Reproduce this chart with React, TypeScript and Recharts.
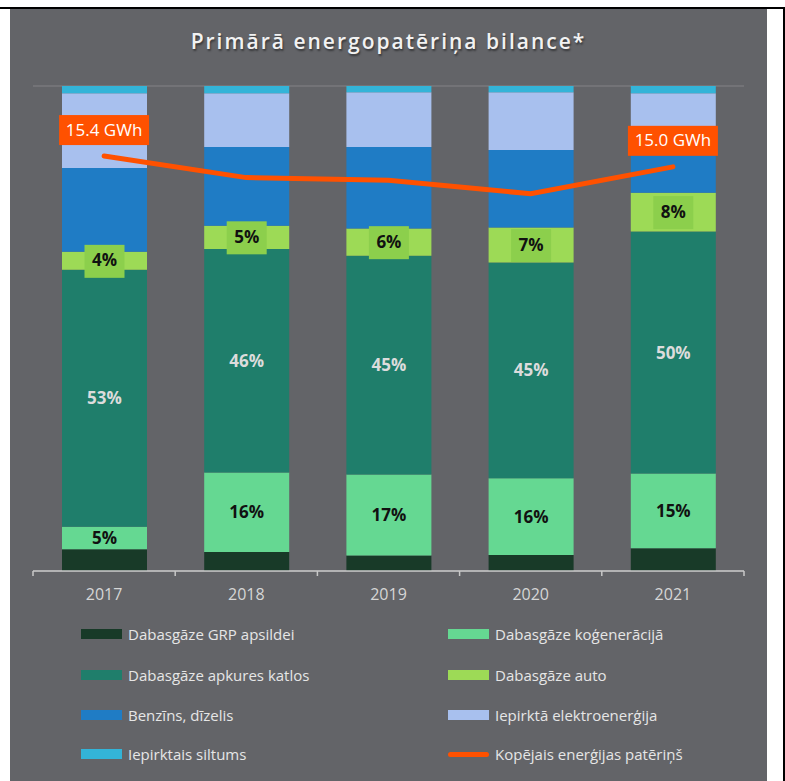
import React from "react";
import {
  ComposedChart,
  Bar,
  Line,
  XAxis,
  YAxis,
  CartesianGrid,
  LabelList,
} from "recharts";

// shares of primary energy consumption, %
const years = ["2017", "2018", "2019", "2020", "2021"];
const grpHeating = [4.5, 3.9, 3.2, 3.3, 4.7];
const gasCogeneration = [4.6, 16.4, 16.7, 15.8, 15.4];
const gasBoilers = [53.0, 46.1, 45.1, 44.5, 49.9];
const gasAuto = [3.7, 4.8, 5.6, 7.2, 8.0];
const petrolDiesel = [17.3, 16.2, 16.8, 16.0, 12.0];
const boughtElectricity = [15.4, 11.1, 11.3, 11.9, 8.5];
const boughtHeat = [1.5, 1.5, 1.3, 1.3, 1.5];
// total consumption, GWh
const totalGWh = [15.4, 14.6, 14.5, 14.0, 15.0];
const pctTicks = [0, 10, 20, 30, 40, 50, 60, 70, 80, 90, 100];

const data = years.map((year, i) => ({
  year,
  grp: grpHeating[i],
  kogen: gasCogeneration[i],
  katli: gasBoilers[i],
  auto: gasAuto[i],
  benz: petrolDiesel[i],
  elek: boughtElectricity[i],
  silt: boughtHeat[i],
  total: totalGWh[i],
}));

const BG = "#636468";
const FONT = "'Open Sans', sans-serif";

const series = [
  { key: "grp", name: "Dabasgāze GRP apsildei", color: "#183a28" },
  { key: "kogen", name: "Dabasgāze koģenerācijā", color: "#65d892" },
  { key: "katli", name: "Dabasgāze apkures katlos", color: "#1f7e6b" },
  { key: "auto", name: "Dabasgāze auto", color: "#9dda56" },
  { key: "benz", name: "Benzīns, dīzelis", color: "#1f7cc5" },
  { key: "elek", name: "Iepirktā elektroenerģija", color: "#a8c0ee" },
  { key: "silt", name: "Iepirktais siltums", color: "#33b4d8" },
];
const lineColor = "#ff5100";
const lineName = "Kopējais enerģijas patēriņš";

const pct = (v: any) => `${Math.round(Number(v))}%`;

function AutoLabel(props: any) {
  const { x, y, width, height, value } = props;
  const cx = x + width / 2;
  const cy = y + height / 2;
  return (
    <g>
      <rect x={cx - 20} y={cy - 16} width={40} height={33} fill="#8ccf4c" />
      <text
        x={cx}
        y={cy + 1}
        textAnchor="middle"
        dominantBaseline="middle"
        fontFamily={FONT}
        fontWeight={700}
        fontSize={17}
        fill="#111"
      >
        {pct(value)}
      </text>
    </g>
  );
}

function TotalLabel(props: any) {
  const { x, y, value, index } = props;
  if (index !== 0 && index !== years.length - 1) return null;
  const cy = y - 26;
  return (
    <g>
      <rect x={x - 45} y={cy - 15} width={90} height={30} fill={lineColor} />
      <text
        x={x}
        y={cy + 1}
        textAnchor="middle"
        dominantBaseline="middle"
        fontFamily={FONT}
        fontSize={17}
        fill="#fff"
      >
        {`${Number(value).toFixed(1)} GWh`}
      </text>
    </g>
  );
}

// year label plus the small tick marks that sit between the bars
function YearTick(props: any) {
  const { x, y, payload, index } = props;
  const off = payload?.offset ?? 0;
  const axisY = y - 18;
  return (
    <g>
      <line x1={x - off} x2={x - off} y1={axisY} y2={axisY + 5} stroke="#c8c8c8" strokeWidth={1.5} />
      {index === years.length - 1 && (
        <line x1={x + off} x2={x + off} y1={axisY} y2={axisY + 5} stroke="#c8c8c8" strokeWidth={1.5} />
      )}
      <text
        x={x}
        y={y}
        dy="0.71em"
        textAnchor="middle"
        fontFamily={FONT}
        fontSize={16}
        fill="#d6d6d6"
      >
        {payload.value}
      </text>
    </g>
  );
}

function LegendBlock() {
  const items = [
    ...series.map((s) => ({ name: s.name, color: s.color, line: false })),
    { name: lineName, color: lineColor, line: true },
  ];
  const rowsY = [625, 666, 706, 745];
  return (
    <>
      {items.map((it, i) => {
        const col = i % 2;
        const row = Math.floor(i / 2);
        const left = col === 0 ? 71 : 438;
        return (
          <div
            key={it.name}
            style={{
              position: "absolute",
              left,
              top: rowsY[row] - 11,
              height: 22,
              display: "flex",
              alignItems: "center",
              fontFamily: FONT,
              fontSize: 15,
              color: "#e6e6e6",
              whiteSpace: "nowrap",
            }}
          >
            <span
              style={{
                display: "inline-block",
                width: 41,
                height: it.line ? 5 : 10,
                borderRadius: it.line ? 3 : 0,
                background: it.color,
                marginRight: 6,
              }}
            />
            {it.name}
          </div>
        );
      })}
    </>
  );
}

export default function App() {
  return (
    <div style={{ position: "absolute", left: 0, top: 0, width: 785, height: 781, background: "#fff" }}>
      <div style={{ position: "absolute", left: 0, top: 7, width: 785, height: 2, background: "#000" }} />
      <div style={{ position: "absolute", left: 783, top: 7, width: 2, height: 774, background: "#000" }} />
      <div
        style={{
          position: "absolute",
          left: 10,
          top: 9,
          width: 757,
          height: 772,
          background: BG,
          overflow: "hidden",
        }}
      >
        <div
          style={{
            position: "absolute",
            top: 17,
            left: 0,
            width: 757,
            textAlign: "center",
            fontFamily: FONT,
            fontWeight: 600,
            fontSize: 21,
            lineHeight: "30px",
            letterSpacing: 2,
            color: "#f2f2f2",
            textShadow: "1px 2px 2px rgba(0,0,0,0.45)",
          }}
        >
          Primārā energopatēriņa bilance*
        </div>

        <ComposedChart
          width={757}
          height={620}
          data={data}
          margin={{ top: 77, right: 23, left: 23, bottom: 0 }}
          barSize={85}
        >
          <CartesianGrid vertical={false} stroke="#78797d" strokeWidth={1.5} />
          <XAxis
            dataKey="year"
            height={58}
            axisLine={{ stroke: "#c8c8c8", strokeWidth: 1.5 }}
            tickLine={false}
            tickSize={0}
            tickMargin={18}
            tick={<YearTick />}
            interval={0}
          />
          <YAxis yAxisId="pct" hide domain={[0, 100]} ticks={pctTicks} />
          <YAxis yAxisId="gwh" hide orientation="right" domain={[0, 18]} />

          {series.map((s) => (
            <Bar
              key={s.key}
              yAxisId="pct"
              dataKey={s.key}
              name={s.name}
              stackId="a"
              fill={s.color}
              isAnimationActive={false}
            >
              {s.key === "kogen" && (
                <LabelList
                  dataKey="kogen"
                  position="center"
                  formatter={pct}
                  style={{ fontFamily: FONT, fontWeight: 700, fontSize: 17, fill: "#111" }}
                />
              )}
              {s.key === "katli" && (
                <LabelList
                  dataKey="katli"
                  position="center"
                  formatter={pct}
                  style={{ fontFamily: FONT, fontWeight: 700, fontSize: 17, fill: "#dcdcdc" }}
                />
              )}
              {s.key === "auto" && <LabelList dataKey="auto" content={<AutoLabel />} />}
            </Bar>
          ))}

          <Line
            yAxisId="gwh"
            dataKey="total"
            name={lineName}
            stroke={lineColor}
            strokeWidth={5}
            strokeLinecap="round"
            dot={false}
            activeDot={false}
            isAnimationActive={false}
          >
            <LabelList dataKey="total" content={<TotalLabel />} />
          </Line>
        </ComposedChart>

        <LegendBlock />
      </div>
    </div>
  );
}
